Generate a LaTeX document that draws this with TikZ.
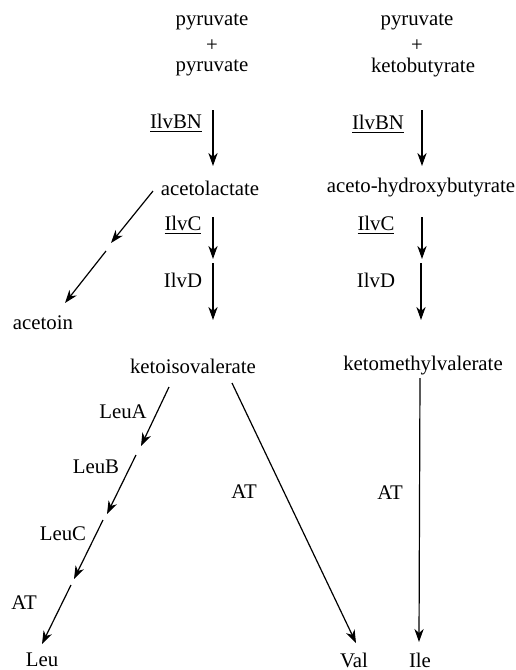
\documentclass[tikz,border=0pt]{standalone}
\usepackage{fontspec}
\setmainfont{Liberation Serif}
\usetikzlibrary{arrows.meta}
\begin{document}
\begin{tikzpicture}[x=0.5pt,y=-0.5pt,
  lbl/.style={inner sep=0pt,font=\fontsize{10.4pt}{12pt}\selectfont},
  rx/.style={line width=0.6pt,-{Stealth[length=6.5pt,width=4.6pt,inset=2pt]}}]
\useasboundingbox (0,0) rectangle (515,670);
% left column
\node[lbl] (p1) at (212,22) {pyruvate};
\node[lbl] (plus1) at (212,46) {+};
\node[lbl] (p2) at (212,68) {pyruvate};
\node[lbl] (ilvbn1) at (176,123) {\underline{IlvBN}};
\coordinate (a1s) at (213,110);
\coordinate (a1e) at (213,166);
\draw[rx] (a1s) -- (a1e);
\node[lbl] (acl) at (210,188) {acetolactate};
\node[lbl] (ilvc1) at (183,225) {\underline{IlvC}};
\coordinate (a2s) at (213,217);
\coordinate (a2e) at (213,259);
\draw[rx] (a2s) -- (a2e);
\node[lbl] (ilvd1) at (183,280) {IlvD};
\coordinate (a3s) at (213,263);
\coordinate (a3e) at (213,320);
\draw[rx] (a3s) -- (a3e);
\node[lbl] (kiv) at (193,366) {ketoisovalerate};
% acetoin branch
\coordinate (b1s) at (153,191);
\coordinate (b1e) at (111,243);
\draw[rx] (b1s) -- (b1e);
\coordinate (b2s) at (106,251);
\coordinate (b2e) at (65,303);
\draw[rx] (b2s) -- (b2e);
\node[lbl] (acetoin) at (43,323) {acetoin};
% Leu chain
\coordinate (l1s) at (169,387);
\coordinate (l1e) at (141,446);
\draw[rx] (l1s) -- (l1e);
\node[lbl] (leua) at (123,412) {LeuA};
\coordinate (l2s) at (136,455);
\coordinate (l2e) at (107,514);
\draw[rx] (l2s) -- (l2e);
\node[lbl] (leub) at (96,467) {LeuB};
\coordinate (l3s) at (103,520);
\coordinate (l3e) at (74,579);
\draw[rx] (l3s) -- (l3e);
\node[lbl] (leuc) at (63,534) {LeuC};
\coordinate (l4s) at (71,585);
\coordinate (l4e) at (42,644);
\draw[rx] (l4s) -- (l4e);
\node[lbl] (at1) at (24,603) {AT};
\node[lbl] (leu) at (42,660) {Leu};
% Val
\coordinate (vs) at (232,383);
\coordinate (ve) at (356,643);
\draw[rx] (vs) -- (ve);
\node[lbl] (at2) at (244,492) {AT};
\node[lbl] (val) at (354,660) {Val};
% right column
\node[lbl] (p3) at (417,22) {pyruvate};
\node[lbl] (plus2) at (417,46) {+};
\node[lbl] (kb) at (423,68) {ketobutyrate};
\node[lbl] (ilvbn2) at (378,124) {\underline{IlvBN}};
\coordinate (r1s) at (422,110);
\coordinate (r1e) at (422,166);
\draw[rx] (r1s) -- (r1e);
\node[lbl] (ahb) at (421,188) {aceto-hydroxybutyrate};
\node[lbl] (ilvc2) at (376,225) {\underline{IlvC}};
\coordinate (r2s) at (422,217);
\coordinate (r2e) at (422,259);
\draw[rx] (r2s) -- (r2e);
\node[lbl] (ilvd2) at (376,280) {IlvD};
\coordinate (r3s) at (421,263);
\coordinate (r3e) at (421,320);
\draw[rx] (r3s) -- (r3e);
\node[lbl] (kmv) at (423,366) {ketomethylvalerate};
\coordinate (is) at (420,378);
\coordinate (ie) at (419,642);
\draw[rx] (is) -- (ie);
\node[lbl] (at3) at (390,493) {AT};
\node[lbl] (ile) at (420,660) {Ile};
\end{tikzpicture}
\end{document}
